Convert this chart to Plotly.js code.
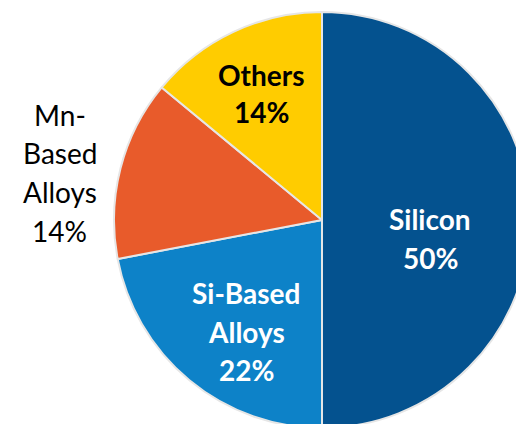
<!DOCTYPE html>
<html><head><meta charset="utf-8">
<script src="https://cdn.plot.ly/plotly-3.0.1.min.js"></script>
<style>html,body{margin:0;padding:0;overflow:hidden;background:#fff}#c{width:540px;height:440px}</style>
</head><body><div id="c"></div>
<script>
const categories = ["Silicon", "Si-Based Alloys", "Mn-Based Alloys", "Others"];
const values = [50, 22, 14, 14];
const labelLines = [["Silicon"], ["Si-Based", "Alloys"], ["Mn-", "Based", "Alloys"], ["Others"]];
const colors = ["#04528F", "#0D82C8", "#E85B2B", "#FFCC00"];

const W = 540, H = 440, L = 114, R = 10, T = 12, B = 12;
const pw = W - L - R, ph = H - T - B;
// label placement (pixel centers of first line), colors, weight
const place = [
  {x: 430, y: 219, dy: 39, color: "#fff", bold: true},
  {x: 246, y: 293, dy: 38.5, color: "#fff", bold: true},
  {x: 60, y: 115, dy: 38.5, color: "#000", bold: false},
  {x: 261, y: 75, dy: 37, color: "#000", bold: true}
];
const annotations = [];
categories.forEach((c, i) => {
  const lines = labelLines[i].concat([values[i] + "%"]);
  const p = place[i];
  lines.forEach((t, k) => {
    const py = p.y + k * p.dy;
    annotations.push({
      xref: "paper", yref: "paper",
      x: (p.x - L) / pw, y: (H - B - py) / ph,
      xanchor: "center", yanchor: "middle",
      text: p.bold ? "<b>" + t + "</b>" : t,
      showarrow: false,
      font: {family: "Lato, 'Open Sans', sans-serif", size: 28, color: p.color}
    });
  });
});

Plotly.newPlot("c", [{
  type: "pie",
  labels: categories,
  values: values,
  sort: false,
  direction: "clockwise",
  rotation: 0,
  textinfo: "none",
  hoverinfo: "none",
  marker: {colors: colors, line: {color: "#e6e6e6", width: 2}},
  showlegend: false
}], {
  width: W, height: H,
  margin: {l: L, r: R, t: T, b: B, pad: 0},
  paper_bgcolor: "#fff", plot_bgcolor: "#fff",
  showlegend: false,
  annotations: annotations
}, {displayModeBar: false, staticPlot: true});
</script></body></html>
